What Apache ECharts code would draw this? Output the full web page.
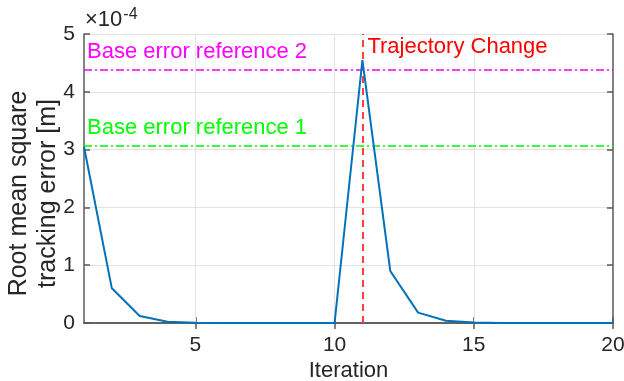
<!DOCTYPE html>
<html>
<head>
<meta charset="utf-8">
<script src="https://cdn.jsdelivr.net/npm/echarts@6/dist/echarts.min.js"></script>
<style>
  html, body { margin: 0; padding: 0; background: #fff; }
  #chart { width: 624px; height: 381px; }
</style>
</head>
<body>
<div id="chart"></div>
<script>
// Iteration numbers along the x axis
const iterations = [1, 2, 3, 4, 5, 6, 7, 8, 9, 10, 11, 12, 13, 14, 15, 16, 17, 18, 19, 20];
// RMS tracking error per iteration, in units of 1e-4 m
const rmsError = [3.05, 0.60, 0.12, 0.02, 0.005, 0.002, 0.001, 0, 0, 0,
                  4.55, 0.90, 0.18, 0.04, 0.008, 0.002, 0.001, 0, 0, 0];
// Base error reference levels (1e-4 m) and the iteration where the trajectory changes
const baseRef1 = 3.06;
const baseRef2 = 4.38;
const trajectoryChangeAt = 11;
// Tick labels
const xTicks = [5, 10, 15, 20];
const yTicks = [0, 1, 2, 3, 4, 5];

const FONT = 'Liberation Sans, Arial, Helvetica, sans-serif';
const AXIS_COLOR = '#5a5a5a';
const TEXT_COLOR = '#262626';
const GRID_COLOR = '#e3e3e3';

const chart = echarts.init(document.getElementById('chart'), null, { renderer: 'canvas' });

const seriesData = iterations.map((it, i) => [it, rmsError[i]]);

const commonAxisLine = { show: true, lineStyle: { color: AXIS_COLOR, width: 1.5 } };

chart.setOption({
  animation: false,
  backgroundColor: '#ffffff',
  textStyle: { fontFamily: FONT },
  grid: { left: 84, right: 11, top: 34, bottom: 58, containLabel: false, outerBoundsMode: 'none' },
  xAxis: [
    {
      type: 'value', min: 1, max: 20, interval: 5,
      position: 'bottom',
      name: 'Iteration', nameLocation: 'middle', nameGap: 37, nameMoveOverlap: false,
      nameTextStyle: { fontSize: 22, color: TEXT_COLOR, fontFamily: FONT },
      axisLine: commonAxisLine,
      axisTick: { show: true, inside: true, length: 6, lineStyle: { color: AXIS_COLOR, width: 1.5 },
                  customValues: xTicks },
      axisLabel: { fontSize: 21, color: TEXT_COLOR, fontFamily: FONT, margin: 12,
                   customValues: xTicks },
      splitLine: { show: false }
    },
    {
      type: 'value', min: 1, max: 20, interval: 5,
      position: 'top',
      axisLine: commonAxisLine,
      axisTick: { show: true, inside: true, length: 6, lineStyle: { color: AXIS_COLOR, width: 1.5 },
                  customValues: xTicks },
      axisLabel: { show: false },
      splitLine: { show: false }
    }
  ],
  yAxis: [
    {
      type: 'value', min: 0, max: 5, interval: 1,
      position: 'left',
      name: 'Root mean square\ntracking error [m]', nameLocation: 'middle', nameGap: 21,
      nameMoveOverlap: false,
      nameTextStyle: { fontSize: 25, lineHeight: 29, color: TEXT_COLOR, fontFamily: FONT,
                       padding: [0, 30, 0, 0] },
      axisLine: commonAxisLine,
      axisTick: { show: true, inside: true, length: 6, lineStyle: { color: AXIS_COLOR, width: 1.5 } },
      axisLabel: { fontSize: 21, color: TEXT_COLOR, fontFamily: FONT, margin: 9,
                   customValues: yTicks },
      splitLine: { show: true, lineStyle: { color: GRID_COLOR, width: 1 } }
    },
    {
      type: 'value', min: 0, max: 5, interval: 1,
      position: 'right',
      axisLine: commonAxisLine,
      axisTick: { show: true, inside: true, length: 6, lineStyle: { color: AXIS_COLOR, width: 1.5 } },
      axisLabel: { show: false },
      splitLine: { show: false }
    }
  ],
  graphic: [
    {
      type: 'text', left: 85, top: 7, silent: true,
      style: {
        text: '{a|×10}{b|-4}',
        fontFamily: FONT,
        rich: {
          a: { fontSize: 22, fill: TEXT_COLOR, fontFamily: FONT },
          b: { fontSize: 16, fill: TEXT_COLOR, fontFamily: FONT, padding: [0, 0, 10, 1] }
        }
      }
    }
  ],
  series: [
    {
      // vertical grid lines at the labelled iterations
      type: 'line', data: [], silent: true,
      markLine: {
        symbol: 'none', silent: true, animation: false,
        label: { show: false },
        lineStyle: { color: GRID_COLOR, width: 1, type: 'solid' },
        data: xTicks.slice(0, 3).map(v => ({ xAxis: v }))
      }
    },
    {
      name: 'RMS error', type: 'line', data: seriesData,
      xAxisIndex: 0, yAxisIndex: 0,
      showSymbol: false, symbol: 'none',
      lineStyle: { color: '#0072BD', width: 2 },
      z: 5,
      markLine: {
        symbol: 'none', silent: true, animation: false,
        data: [
          {
            yAxis: baseRef2,
            lineStyle: { color: '#FF00FF', width: 1.5, type: [8, 3, 2, 3] },
            label: { show: true, position: 'insideStartTop', distance: [3, 7],
                     formatter: 'Base error reference 2', color: '#FF00FF',
                     fontSize: 22, fontFamily: FONT }
          },
          {
            yAxis: baseRef1,
            lineStyle: { color: '#00FF00', width: 1.5, type: [8, 3, 2, 3] },
            label: { show: true, position: 'insideStartTop', distance: [3, 7],
                     formatter: 'Base error reference 1', color: '#00FF00',
                     fontSize: 22, fontFamily: FONT }
          },
          {
            xAxis: trajectoryChangeAt,
            lineStyle: { color: '#FF4040', width: 2, type: [7, 5] },
            label: { show: false }
          }
        ]
      },
      markPoint: {
        symbol: 'circle', symbolSize: 0, silent: true, animation: false,
        data: [
          {
            coord: [trajectoryChangeAt, 5],
            label: { show: true, position: [5, 2], align: 'left', verticalAlign: 'top',
                     formatter: 'Trajectory Change', color: '#FF0000',
                     fontSize: 22, fontFamily: FONT }
          }
        ]
      }
    }
  ]
});
</script>
</body>
</html>
